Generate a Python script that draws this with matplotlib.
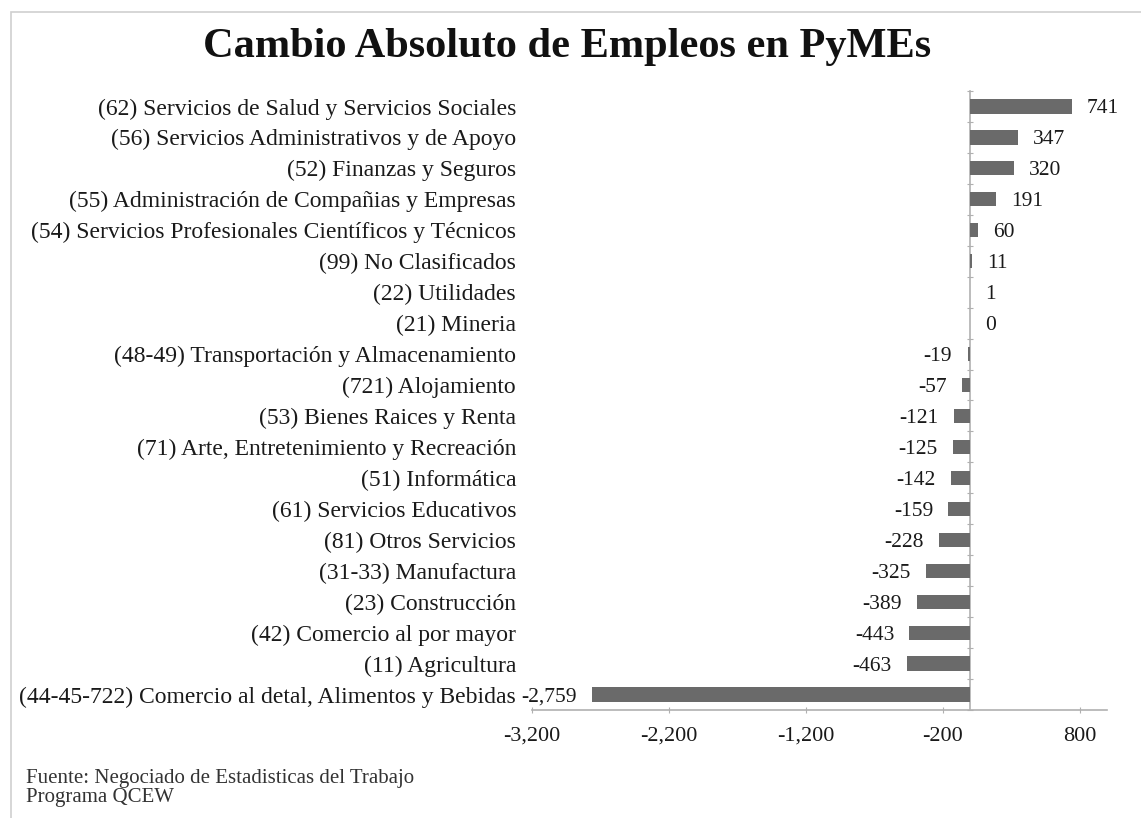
import matplotlib.pyplot as plt
from matplotlib.patches import Rectangle
from matplotlib.ticker import FixedLocator, NullFormatter

plt.rcParams['font.family'] = ['Liberation Serif', 'DejaVu Serif']

categories = [
    "(62) Servicios de Salud y Servicios Sociales",
    "(56) Servicios Administrativos y de Apoyo",
    "(52) Finanzas y Seguros",
    "(55) Administración de Compañias y Empresas",
    "(54) Servicios Profesionales Científicos y Técnicos",
    "(99) No Clasificados",
    "(22) Utilidades",
    "(21) Mineria",
    "(48-49) Transportación y Almacenamiento",
    "(721) Alojamiento",
    "(53) Bienes Raices y Renta",
    "(71) Arte, Entretenimiento y Recreación",
    "(51) Informática",
    "(61) Servicios Educativos",
    "(81) Otros Servicios",
    "(31-33) Manufactura",
    "(23) Construcción",
    "(42) Comercio al por mayor",
    "(11) Agricultura",
    "(44-45-722) Comercio al detal, Alimentos y Bebidas",
]
values = [741, 347, 320, 191, 60, 11, 1, 0, -19, -57, -121, -125, -142,
          -159, -228, -325, -389, -443, -463, -2759]
x_ticks = [-3200, -2200, -1200, -200, 800]

bar_color = "#6a6a6a"
axis_color = "#b0b0b0"
text_color = "#1a1a1a"

fig = plt.figure(figsize=(11.41, 8.18), dpi=100)
ax = fig.add_axes([0.4663, 0.132, 0.5039, 0.7568])

ypos = list(range(len(categories)))
ax.barh(ypos, values, height=0.46, color=bar_color, zorder=2)

ax.set_xlim(-3200, 1000)
ax.set_ylim(len(categories) - 0.5, -0.5)

ax.set_yticks(ypos)
ax.set_yticklabels(categories, fontsize=17, color=text_color)
ax.tick_params(axis="y", length=0, pad=11.5)

ax.set_xticks(x_ticks)
ax.set_xticklabels([f"{t:,}" for t in x_ticks], fontsize=16, color=text_color)
ax.tick_params(axis="x", length=4, direction="inout", color=axis_color, pad=10)

for side in ["left", "right", "top"]:
    ax.spines[side].set_visible(False)
ax.spines["bottom"].set_color(axis_color)
ax.spines["bottom"].set_linewidth(1.2)

# vertical axis at zero with ticks between categories
zero_frac = (0 - ax.get_xlim()[0]) / (ax.get_xlim()[1] - ax.get_xlim()[0])
sec = ax.secondary_yaxis(zero_frac)
sec.yaxis.set_major_locator(FixedLocator([i - 0.5 for i in range(len(categories) + 1)]))
sec.yaxis.set_major_formatter(NullFormatter())
sec.tick_params(length=5, direction="inout", color=axis_color)
for sp in sec.spines.values():
    sp.set_color(axis_color)
    sp.set_linewidth(1.2)

for y, v in zip(ypos, values):
    if v >= 0:
        ax.annotate(f"{v:,}", (v, y), xytext=(11, 0), textcoords="offset points",
                    ha="left", va="center_baseline", fontsize=15.5, color=text_color)
    else:
        ax.annotate(f"{v:,}", (v, y), xytext=(-11, 0), textcoords="offset points",
                    ha="right", va="center_baseline", fontsize=15.5, color=text_color)

fig.text(0.497, 0.943, "Cambio Absoluto de Empleos en PyMEs", ha="center",
         va="center", fontsize=30.5, fontweight="bold", color="#111111")

fig.text(0.023, 0.037, "Fuente: Negociado de Estadisticas del Trabajo\nPrograma QCEW",
         ha="left", va="center", fontsize=15, color="#333333", linespacing=1.0)

fig.patches.append(Rectangle((11 / 1141, -0.1), 1.2, 1 - 12 / 818 + 0.1,
                             transform=fig.transFigure, fill=False,
                             edgecolor="#cfcfcf", linewidth=1.2))

fig.savefig("out.png", dpi=100)
